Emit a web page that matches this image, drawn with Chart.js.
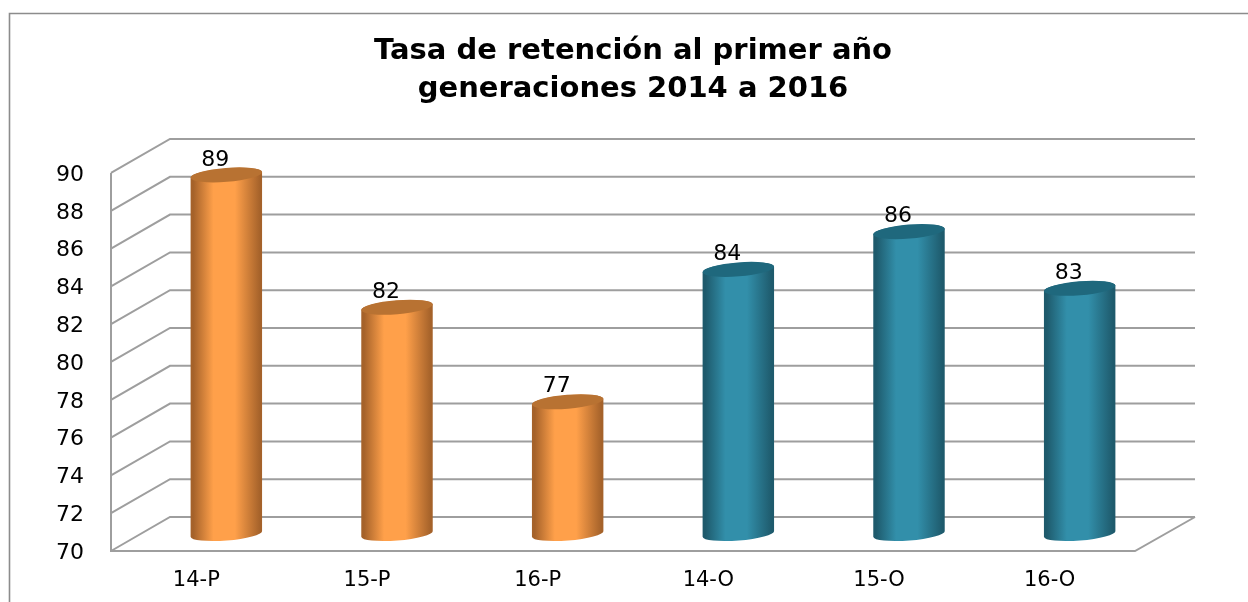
<!DOCTYPE html>
<html><head><meta charset="utf-8">
<script src="https://cdn.jsdelivr.net/npm/chart.js@4"></script>
<style>html,body{margin:0;padding:0;background:#fff}canvas{display:block}</style>
</head><body><canvas id="c" width="1248" height="602"></canvas>
<script>
const categories = ['14-P','15-P','16-P','14-O','15-O','16-O'];
const retention = [89,82,77,84,86,83];
const titleLines = ['Tasa de retención al primer año','generaciones 2014 a 2016'];
const orange = {base:'#FFA04A',edge:'#A5622A',cap:'#B87232'};
const teal = {base:'#328FAA',edge:'#1E5A6C',cap:'#1F687D'};
const palette = [orange,orange,orange,teal,teal,teal];
const depthX = 59, depthY = 34, barShiftX = 30, barShiftY = 17, tilt = -0.08;

const wall = {
  id:'wall',
  afterLayout(chart){ const t=chart.titleBlock; if(t){ t.left+=131; } },
  beforeDatasetsDraw(chart){
    const {ctx,scales:{y},chartArea:a}=chart;
    ctx.save();
    ctx.strokeStyle='#8C8C8C'; ctx.lineWidth=1.6;
    ctx.beginPath(); ctx.moveTo(9.5,602); ctx.lineTo(9.5,13.5); ctx.lineTo(1248,13.5); ctx.stroke();
    ctx.strokeStyle='#9E9E9E'; ctx.lineWidth=2;
    y.ticks.forEach(t=>{
      const p=y.getPixelForValue(t.value);
      ctx.beginPath(); ctx.moveTo(a.left,p); ctx.lineTo(a.left+depthX,p-depthY); ctx.lineTo(a.right+depthX+1,p-depthY); ctx.stroke();
    });
    ctx.beginPath(); ctx.moveTo(a.left,a.top); ctx.lineTo(a.left,a.bottom); ctx.lineTo(a.right,a.bottom); ctx.lineTo(a.right+depthX+1,a.bottom-depthY); ctx.stroke();
    ctx.restore();
  },
  beforeDatasetDraw(chart,args){
    const {ctx,chartArea:a}=chart;
    args.meta.data.forEach((el,i)=>{
      const cx=el.x+barShiftX, rx=el.width/2, top=el.y-barShiftY, bot=a.bottom-barShiftY, c=palette[i];
      const g=ctx.createLinearGradient(cx-rx,0,cx+rx,0);
      g.addColorStop(0,c.edge); g.addColorStop(0.04,c.edge);
      g.addColorStop(0.32,c.base); g.addColorStop(0.62,c.base);
      g.addColorStop(0.97,c.edge); g.addColorStop(1,c.edge);
      ctx.save();
      ctx.fillStyle=g;
      ctx.beginPath();
      ctx.ellipse(cx,bot,rx,6.5,tilt,Math.PI,0,true);
      ctx.ellipse(cx,top,rx,6.5,tilt,0,Math.PI,true);
      ctx.closePath(); ctx.fill();
      ctx.fillStyle=c.cap;
      ctx.beginPath(); ctx.ellipse(cx,top,rx,7,tilt,0,Math.PI*2); ctx.fill();
      ctx.fillStyle='#000'; ctx.font='22px "DejaVu Sans"'; ctx.textAlign='center'; ctx.textBaseline='middle';
      ctx.fillText(String(retention[i]),cx-11,top-15);
      ctx.restore();
    });
    return false;
  }
};

new Chart(document.getElementById('c'),{
  type:'bar',
  data:{labels:categories,datasets:[{data:retention,backgroundColor:palette.map(c=>c.base),barPercentage:0.42,categoryPercentage:1}]},
  options:{
    responsive:false,animation:false,
    layout:{padding:{left:0,right:113,top:0,bottom:0}},
    plugins:{
      legend:{display:false},tooltip:{enabled:false},
      title:{display:true,text:titleLines,color:'#000',font:{family:'"DejaVu Sans"',size:29,weight:'bold',lineHeight:1.31},padding:{top:32,bottom:65}}
    },
    scales:{
      x:{grid:{display:false},border:{display:false},
        ticks:{color:'#000',font:{family:'"DejaVu Sans"',size:21},padding:9,maxRotation:0},
        afterFit(s){s.height=51;}},
      y:{min:70,max:90,grid:{display:false},border:{display:false},
        ticks:{stepSize:2,color:'#000',font:{family:'"DejaVu Sans"',size:22},padding:19,labelOffset:2},
        afterFit(s){s.width=111;}}
    }
  },
  plugins:[wall]
});
</script></body></html>
